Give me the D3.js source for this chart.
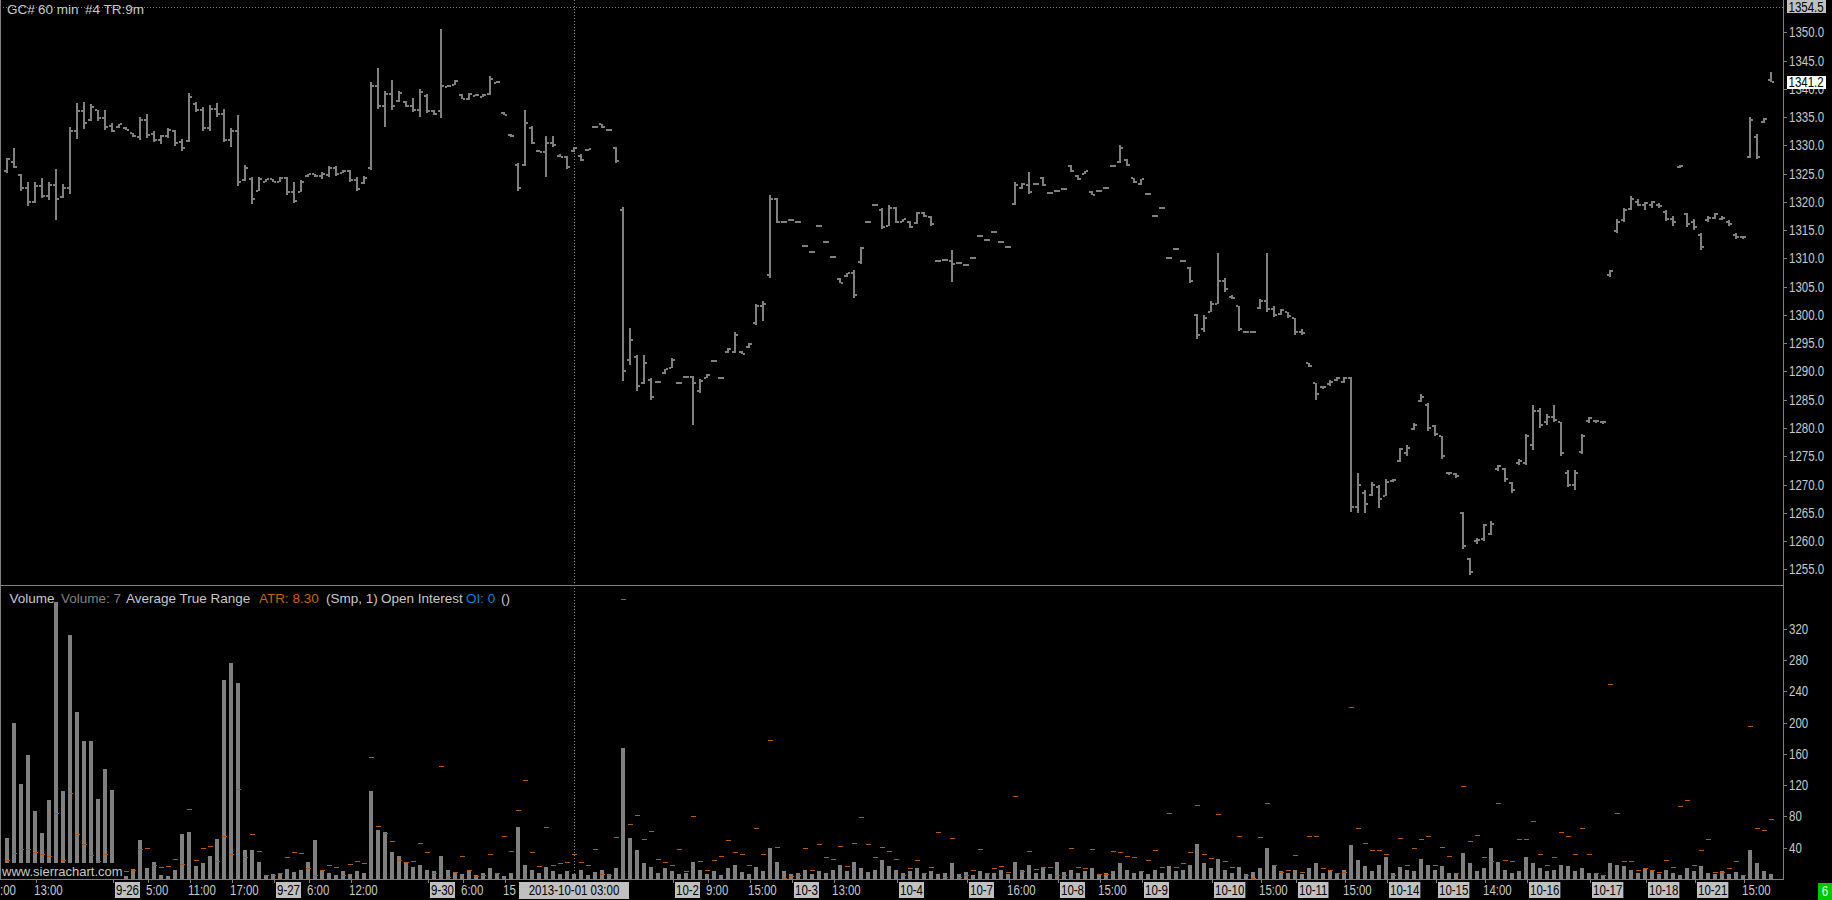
<!DOCTYPE html>
<html><head><meta charset="utf-8">
<script src="https://cdn.jsdelivr.net/npm/d3@7"></script>
<style>
html,body{margin:0;padding:0;background:#000;overflow:hidden}
svg{display:block}
text{font-family:"Liberation Sans",Arial,sans-serif}
</style></head><body>
<svg id="c" width="1832" height="900"></svg>
<script>
// ---------------- data ----------------
const opens=[1325.5,1327.0,1324.8,1322.5,1320.0,1322.8,1321.0,1322.9,1320.8,1322.5,1332.5,1336.0,1334.5,1336.3,1334.8,1333.5,1333.2,1333.1,1332.1,1331.5,
1334.5,1332.0,1331.0,1331.6,1332.6,1330.6,1330.8,1337.4,1336.2,1333.0,1336.5,1335.6,1331.0,1332.5,1323.8,1324.0,1322.0,1323.6,1324.0,1323.6,
1324.2,1321.8,1321.8,1324.5,1324.9,1324.5,1324.8,1326.0,1325.1,1325.5,1323.8,1323.3,1326.0,1340.5,1337.0,1339.0,1337.8,1337.6,1337.0,1336.2,
1338.8,1336.0,1336.0,1340.4,1340.7,1338.9,1338.2,1338.8,1338.5,1339.0,1341.0,1335.8,1331.9,1326.5,1326.5,1333.0,1329.0,1328.8,1330.5,1328.2,
1328.0,1329.0,1328.2,1329.1,1333.2,1333.7,1332.8,1329.5,1318.5,1292.0,1292.5,1288.0,1288.5,1288.1,1289.8,1290.6,1288.0,1289.0,1289.0,1286.5,
1288.9,1291.9,1288.8,1293.4,1293.5,1293.5,1294.3,1298.5,1301.5,1307.0,1320.5,1316.5,1316.8,1316.4,1312.2,1311.1,1315.8,1312.9,1310.2,1306.4,
1306.9,1307.5,1309.3,1316.5,1319.5,1318.5,1315.8,1319.0,1316.5,1316.5,1316.2,1318.0,1317.4,1309.6,1309.8,1309.5,1309.2,1308.8,1310.0,1314.0,
1313.2,1314.6,1312.9,1312.0,1319.6,1322.4,1323.0,1323.1,1324.2,1321.5,1321.9,1322.3,1326.4,1324.5,1325.0,1321.8,1321.9,1322.5,1326.3,1327.0,
1327.4,1324.2,1323.2,1321.4,1317.5,1319.0,1310.0,1311.6,1309.5,1308.3,1300.0,1297.5,1300.5,1302.0,1306.0,1303.2,1301.5,1297.0,1297.0,1301.2,
1302.5,1301.0,1300.2,1300.5,1299.5,1297.0,1291.5,1288.0,1287.2,1287.8,1288.5,1288.2,1288.8,1266.0,1268.5,1268.2,1269.5,1268.0,1270.6,1274.2,
1275.5,1279.8,1284.8,1284.0,1280.3,1278.5,1272.1,1271.8,1265.0,1256.8,1260.0,1260.3,1261.2,1272.8,1272.8,1270.2,1273.8,1273.8,1277.0,1283.0,
1281.0,1282.0,1281.0,1272.0,1270.0,1275.8,1281.2,1281.3,1281.0,1307.0,1314.8,1316.8,1318.8,1320.0,1319.5,1319.5,1319.5,1318.2,1317.0,1326.2,
1317.8,1316.5,1314.2,1316.8,1317.2,1317.0,1316.5,1314.2,1313.8,1328.0,1331.5,1334.2,1341.5];
const highs=[1327.8,1329.5,1325.0,1323.5,1323.5,1324.2,1323.5,1325.9,1323.1,1333.2,1337.5,1337.6,1337.3,1336.3,1336.3,1334.0,1333.8,1333.2,1332.2,1335.0,
1335.5,1332.5,1331.9,1333.0,1332.8,1331.2,1339.3,1337.6,1336.8,1337.1,1337.5,1336.5,1333.1,1335.3,1326.6,1324.4,1324.4,1324.1,1324.1,1324.4,
1324.4,1323.5,1323.8,1325.0,1325.0,1325.3,1326.4,1326.4,1325.6,1325.6,1324.4,1324.5,1341.2,1343.6,1339.6,1341.5,1339.6,1337.8,1338.4,1340.0,
1339.0,1336.2,1350.5,1340.6,1341.5,1339.0,1339.3,1339.0,1339.0,1342.3,1341.3,1335.9,1332.0,1326.9,1336.2,1333.4,1329.1,1331.7,1331.7,1328.4,
1328.1,1329.7,1328.4,1329.4,1333.4,1333.8,1332.8,1329.7,1319.1,1297.6,1293.0,1293.0,1288.8,1288.3,1290.5,1292.3,1288.1,1289.1,1289.2,1288.6,
1289.5,1292.0,1288.9,1294.2,1297.0,1293.6,1295.0,1302.0,1302.4,1321.2,1320.7,1316.6,1316.9,1316.5,1312.3,1311.2,1315.9,1313.0,1310.3,1306.5,
1307.5,1307.9,1312.1,1316.6,1319.6,1318.9,1319.4,1319.1,1317.0,1316.6,1318.2,1318.2,1317.5,1309.7,1309.9,1311.4,1309.3,1308.9,1310.1,1314.1,
1313.3,1314.7,1313.0,1312.1,1323.5,1323.3,1325.3,1323.2,1324.4,1321.6,1322.0,1322.4,1326.6,1324.7,1325.5,1321.9,1322.0,1322.6,1326.4,1330.0,
1327.6,1324.3,1324.1,1321.5,1317.6,1319.1,1310.1,1311.7,1309.6,1308.5,1300.2,1300.0,1302.4,1311.0,1306.5,1303.5,1301.5,1297.1,1297.1,1302.8,
1311.0,1301.5,1301.0,1300.5,1299.5,1297.5,1291.5,1288.0,1287.5,1288.5,1289.0,1289.0,1289.0,1272.0,1269.0,1270.5,1270.0,1271.0,1271.0,1276.5,
1277.0,1280.8,1286.0,1284.5,1280.5,1278.5,1272.3,1272.0,1265.2,1257.0,1260.6,1263.0,1263.5,1273.5,1273.0,1270.5,1274.5,1279.0,1284.0,1283.5,
1282.5,1284.0,1281.0,1272.5,1272.5,1279.0,1282.0,1281.5,1281.3,1308.0,1317.0,1319.0,1321.0,1320.5,1320.0,1320.2,1319.8,1318.5,1317.5,1326.6,
1318.0,1317.0,1314.5,1317.5,1318.0,1317.5,1316.8,1314.5,1314.0,1335.0,1332.0,1334.8,1343.0];
const lows=[1325.1,1325.9,1322.0,1319.3,1319.7,1320.7,1320.3,1316.8,1320.7,1321.3,1331.2,1332.8,1334.3,1334.3,1332.8,1332.4,1333.1,1332.6,1331.5,1330.9,
1331.2,1330.6,1330.3,1331.2,1330.0,1329.1,1330.6,1335.9,1332.5,1332.5,1335.0,1330.6,1329.7,1322.8,1323.8,1319.7,1321.9,1323.5,1323.5,1323.5,
1321.3,1319.7,1321.6,1324.4,1324.4,1324.1,1324.4,1324.7,1325.0,1323.5,1321.9,1323.1,1325.6,1336.3,1333.2,1336.2,1337.6,1336.8,1335.9,1335.0,
1335.7,1335.3,1334.8,1340.3,1340.6,1338.1,1338.1,1338.7,1338.4,1339.0,1340.9,1335.3,1331.5,1322.0,1326.3,1330.3,1328.7,1324.5,1329.7,1327.8,
1325.8,1328.9,1327.2,1329.0,1333.1,1333.1,1332.6,1326.9,1288.4,1291.1,1286.7,1287.8,1284.9,1288.0,1289.7,1290.5,1287.9,1288.9,1280.5,1286.1,
1288.8,1291.8,1288.7,1293.3,1293.3,1293.0,1294.2,1298.3,1298.9,1306.6,1316.2,1316.4,1316.7,1316.3,1312.1,1311.0,1315.7,1312.8,1310.1,1305.6,
1306.8,1302.9,1309.1,1316.4,1319.4,1315.1,1315.7,1316.3,1316.4,1315.4,1316.0,1317.4,1315.8,1309.5,1309.7,1305.7,1309.1,1308.7,1309.9,1313.9,
1313.1,1314.5,1312.8,1311.9,1319.4,1322.2,1321.4,1323.0,1322.8,1321.4,1321.8,1322.2,1325.3,1323.9,1324.9,1321.2,1321.8,1322.4,1326.2,1326.9,
1326.3,1323.5,1323.0,1321.3,1317.4,1318.9,1309.9,1311.5,1309.4,1305.7,1295.8,1297.0,1300.5,1302.0,1304.0,1302.8,1297.0,1296.9,1296.9,1301.0,
1300.5,1299.5,1300.0,1299.5,1296.5,1296.5,1290.8,1285.0,1287.0,1287.5,1288.3,1288.0,1265.2,1265.0,1265.0,1268.0,1266.0,1268.0,1270.5,1274.0,
1275.0,1279.5,1284.5,1279.5,1278.5,1274.5,1271.8,1271.2,1258.6,1254.0,1259.5,1260.0,1261.0,1272.5,1270.5,1268.5,1273.5,1273.5,1276.0,1280.0,
1280.5,1281.0,1275.0,1269.5,1269.0,1275.5,1281.0,1281.0,1280.8,1306.8,1314.5,1316.5,1318.5,1319.2,1318.5,1319.0,1319.0,1316.5,1315.8,1326.0,
1315.5,1315.0,1311.5,1316.5,1317.0,1316.8,1315.7,1313.5,1313.5,1327.8,1327.5,1334.0,1341.2];
const closes=[1327.5,1326.2,1322.5,1320.0,1322.8,1321.0,1322.9,1320.5,1322.5,1332.5,1336.0,1334.0,1336.8,1334.8,1333.2,1332.6,1333.7,1332.8,1331.6,1334.5,
1331.8,1330.9,1331.6,1332.7,1330.5,1329.6,1338.5,1336.2,1333.0,1336.5,1335.6,1331.0,1332.5,1323.5,1326.0,1320.5,1324.0,1324.0,1323.6,1324.2,
1321.8,1320.2,1323.5,1324.9,1324.5,1325.0,1326.0,1325.0,1325.5,1323.8,1322.3,1324.3,1340.5,1337.0,1339.0,1337.0,1339.2,1337.0,1336.2,1339.5,
1336.0,1335.5,1340.5,1340.5,1341.3,1338.2,1339.1,1338.9,1338.9,1341.8,1341.2,1335.4,1331.6,1322.5,1334.0,1330.5,1328.8,1330.5,1330.0,1328.0,
1326.2,1329.5,1327.4,1329.3,1333.3,1333.2,1332.7,1327.2,1290.0,1295.5,1287.5,1291.5,1285.5,1288.2,1290.4,1292.0,1288.0,1289.0,1288.0,1288.3,
1289.4,1291.9,1288.8,1294.0,1296.5,1293.1,1294.9,1301.5,1302.0,1320.5,1316.5,1316.5,1316.8,1316.4,1312.2,1311.1,1315.8,1312.9,1310.2,1305.7,
1307.4,1303.5,1311.8,1316.5,1319.5,1315.5,1319.0,1316.5,1316.9,1315.5,1318.0,1317.5,1316.0,1309.6,1309.8,1309.0,1309.2,1308.8,1310.0,1314.0,
1313.2,1314.6,1312.9,1312.0,1323.0,1323.1,1321.8,1323.1,1323.0,1321.5,1321.9,1322.3,1325.5,1324.0,1325.4,1321.3,1321.9,1322.5,1326.3,1329.5,
1326.5,1323.6,1324.0,1321.4,1317.5,1319.0,1310.0,1311.6,1309.5,1306.0,1296.5,1299.5,1302.0,1306.0,1304.5,1303.0,1297.5,1297.0,1297.0,1302.5,
1301.0,1300.0,1300.8,1299.8,1297.0,1296.8,1291.0,1286.0,1287.3,1288.2,1288.8,1288.8,1266.0,1270.0,1266.5,1270.0,1267.5,1270.5,1270.8,1276.2,
1276.5,1280.5,1285.5,1280.0,1279.0,1275.0,1272.0,1271.5,1259.2,1254.5,1260.2,1262.8,1263.0,1273.2,1271.0,1269.0,1274.2,1278.5,1283.0,1280.5,
1282.0,1281.5,1275.5,1270.0,1272.0,1278.5,1281.8,1281.2,1281.0,1307.8,1316.5,1318.5,1320.5,1319.5,1319.8,1320.0,1319.2,1317.0,1316.5,1326.4,
1316.0,1315.5,1312.0,1317.2,1317.8,1317.2,1316.0,1313.8,1313.8,1334.5,1328.0,1334.7,1341.2];
const volumes=[52,199,121,158,87,59,101,354,112,312,213,176,176,102,141,114,10,4,13,50,
14,22,5,4,11,57,60,17,20,29,51,254,276,250,37,37,22,5,6,8,
13,9,12,22,50,12,8,5,10,6,10,8,112,62,60,35,30,20,15,18,
12,10,30,12,8,6,10,5,8,14,6,4,8,66,18,12,8,15,10,6,
10,7,12,5,9,12,6,14,167,52,37,20,15,8,14,10,6,8,22,12,
6,10,5,14,18,9,7,15,10,40,22,10,6,8,12,6,10,8,12,18,
10,22,14,9,12,24,16,12,8,10,14,7,10,6,8,20,7,9,5,10,
6,8,12,7,22,12,18,8,14,6,22,9,12,8,10,14,6,8,10,20,
12,8,10,6,12,8,16,10,12,18,45,20,14,25,12,8,15,6,9,14,
40,16,10,8,12,7,14,20,8,10,6,12,43,24,16,10,18,28,8,15,
12,10,25,18,12,16,8,6,33,20,10,14,40,22,12,8,10,28,20,14,
10,12,18,16,10,14,8,6,5,20,18,16,12,8,14,10,6,12,8,5,
14,10,16,8,6,10,7,9,5,37,20,10,7];
const priceTicks=[1255,1260,1265,1270,1275,1280,1285,1290,1295,1300,1305,1310,1315,1320,1325,1330,1335,1340,1345,1350];
const volumeTicks=[40,80,120,160,200,240,280,320];
const xLabelIdx=[-1,4,15,20,26,32,38,43,49,60,65,71,95,100,106,112,118,127,137,143,150,156,162,172,179,184,191,197,204,211,217,226,234,241,248];
const xLabelText=[":00","13:00","9-26","5:00","11:00","17:00","9-27","6:00","12:00","9-30","6:00","15","10-2","9:00","15:00","10-3","13:00","10-4","10-7","16:00","10-8","15:00","10-9","10-10","15:00","10-11","15:00","10-14","10-15","14:00","10-16","10-17","10-18","10-21","15:00"];
const lastPrice=1341.2, highLine=1354.5, cursorIdx=81, cursorLabel="2013-10-01 03:00";

// ---------------- drawing ----------------
const svg=d3.select('#c');
svg.append('rect').attr('width',1832).attr('height',900).attr('fill','#000');
const n=closes.length;
const xS=d3.scaleLinear().domain([0,n-1]).range([7,7+7*(n-1)]);
const yP=d3.scaleLinear().domain([1255,1350]).range([569.3,32.3]);
const yV=d3.scaleLinear().domain([0,320]).range([879,628.6]);
const atr=highs.map((h,i)=>{const l=lows[i]; if(i===0) return h-l; const pc=closes[i-1]; return Math.max(h-l,Math.abs(h-pc),Math.abs(l-pc));});
const yA=d3.scaleLinear().domain([0,d3.max(atr)]).range([879,599]);
const GRAY='#808080', TXT='#c8c8c8';
const AX=1783, SX=0.82;

// narrow axis text: Liberation Sans squeezed horizontally
function axText(g,x,y,t,fill,anchor){
  const e=g.append('text').attr('transform',`translate(${x},${y}) scale(${SX},1)`)
    .attr('font-size',14).attr('fill',fill).text(t);
  if(anchor) e.attr('text-anchor',anchor);
  return e;
}

// frame lines
const fr=svg.append('g').attr('stroke',GRAY).attr('shape-rendering','crispEdges');
fr.append('line').attr('x1',0.5).attr('x2',0.5).attr('y1',0).attr('y2',879);
fr.append('line').attr('x1',0).attr('x2',AX).attr('y1',585.5).attr('y2',585.5);
fr.append('line').attr('x1',0).attr('x2',AX+1).attr('y1',879.5).attr('y2',879.5);
fr.append('line').attr('x1',AX+0.5).attr('x2',AX+0.5).attr('y1',0).attr('y2',880);
// dotted high line & cursor line
svg.append('line').attr('x1',0).attr('x2',AX).attr('y1',Math.round(yP(highLine))+0.5).attr('y2',Math.round(yP(highLine))+0.5)
  .attr('stroke',GRAY).attr('stroke-dasharray','1,2').attr('shape-rendering','crispEdges');
svg.append('line').attr('x1',Math.round(xS(cursorIdx))+0.5).attr('x2',Math.round(xS(cursorIdx))+0.5).attr('y1',0).attr('y2',879)
  .attr('stroke',GRAY).attr('stroke-dasharray','1,2').attr('shape-rendering','crispEdges');

// price OHLC bars
const pg=svg.append('g').attr('fill',GRAY).attr('shape-rendering','crispEdges');
const idx=d3.range(n);
pg.selectAll('rect.v').data(idx).join('rect').attr('class','v')
  .attr('x',i=>Math.round(xS(i))-1).attr('width',2)
  .attr('y',i=>{const a=yP(highs[i]),b=yP(lows[i]);return b-a<2?Math.round((a+b)/2-1):Math.round(a);})
  .attr('height',i=>Math.max(2,Math.round(yP(lows[i])-yP(highs[i]))));
pg.selectAll('rect.o').data(idx).join('rect').attr('class','o')
  .attr('x',i=>Math.round(xS(i))-3).attr('width',2)
  .attr('y',i=>Math.round(yP(opens[i]))-1).attr('height',2);
pg.selectAll('rect.c').data(idx).join('rect').attr('class','c')
  .attr('x',i=>Math.round(xS(i))+1).attr('width',2)
  .attr('y',i=>Math.round(yP(closes[i]))-1).attr('height',2);

// volume bars
const vg=svg.append('g').attr('fill',GRAY).attr('shape-rendering','crispEdges');
vg.selectAll('rect').data(idx).join('rect')
  .attr('x',i=>Math.round(xS(i))-2).attr('width',4)
  .attr('y',i=>Math.round(yV(volumes[i]))).attr('height',i=>879-Math.round(yV(volumes[i])));
// ATR dashes
const ag=svg.append('g').attr('fill','#b85808').attr('shape-rendering','crispEdges');
ag.selectAll('rect').data(idx).join('rect')
  .attr('x',i=>Math.round(xS(i))-2).attr('width',5)
  .attr('y',i=>Math.round(yA(atr[i]))).attr('height',1);

// watermark
svg.append('rect').attr('x',1).attr('y',863).attr('width',122).attr('height',16).attr('fill','#000');
svg.append('text').attr('x',2).attr('y',876).attr('fill',TXT).attr('font-size',13).text('www.sierrachart.com');

// header
const hd=svg.append('g').attr('fill',TXT).attr('font-size',13.5);
hd.append('text').attr('x',7).attr('y',13.5).text('GC#');
hd.append('text').attr('x',38).attr('y',13.5).text('60 min');
hd.append('text').attr('x',85).attr('y',13.5).text('#4 TR:9m');

// volume legend
const lg=svg.append('g').attr('font-size',13.5);
[[9.5,'Volume',TXT],[61,'Volume: 7',GRAY],[126,'Average True Range',TXT],[259,'ATR: 8.30','#c8640a'],[326,'(Smp, 1)',TXT],[381,'Open Interest',TXT],[466,'OI: 0','#0a82d2'],[501,'()',TXT]]
 .forEach(d=>lg.append('text').attr('x',d[0]).attr('y',602.5).attr('fill',d[2]).text(d[1]));

// price axis
const pa=svg.append('g');
priceTicks.forEach(p=>{
  const y=Math.round(yP(p));
  pa.append('line').attr('x1',AX).attr('x2',AX+4).attr('y1',y+0.5).attr('y2',y+0.5).attr('stroke',GRAY).attr('shape-rendering','crispEdges');
  axText(pa,1789,y+5,p.toFixed(1),TXT);
});
// volume axis
volumeTicks.forEach(v=>{
  const y=Math.round(yV(v));
  pa.append('line').attr('x1',AX).attr('x2',AX+4).attr('y1',y+0.5).attr('y2',y+0.5).attr('stroke',GRAY).attr('shape-rendering','crispEdges');
  axText(pa,1789,y+5,String(v),TXT);
});
// price boxes
function priceBox(p,fill){
  const y=yP(p);
  pa.append('rect').attr('x',1787).attr('y',Math.round(y-6.5)).attr('width',39).attr('height',13).attr('fill',fill);
  axText(pa,1788.5,Math.round(y)+5,p.toFixed(1),'#000');
}
priceBox(highLine,'#c0c0c0');
priceBox(lastPrice,'#ffffff');

// x axis labels
const xg=svg.append('g');
xLabelIdx.forEach((i,k)=>{
  const t=xLabelText[k]; const x=Math.max(1,Math.round(xS(i))); const boxed=t.indexOf('-')>=0;
  if(i>=0) xg.append('line').attr('x1',x+1.5).attr('x2',x+1.5).attr('y1',880).attr('y2',883).attr('stroke',GRAY);
  if(boxed){
    const r=xg.append('rect').attr('x',x+3).attr('y',882).attr('height',16).attr('fill','#c0c0c0');
    const tx=axText(xg,x+4,895,t,'#000');
    r.attr('width',tx.node().getComputedTextLength()*SX+2);
  } else {
    axText(xg,i<0?0:x-1,895,t,TXT);
  }
});
// cursor label
{
  const cx=Math.round(xS(cursorIdx));
  svg.append('rect').attr('x',cx-55).attr('y',882).attr('width',110).attr('height',17).attr('fill','#c0c0c0');
  axText(svg,cx,895,cursorLabel,'#000','middle');
}
// green status box
svg.append('rect').attr('x',1818).attr('y',883).attr('width',14).attr('height',17).attr('fill','#00c800');
axText(svg,1825,896,'6','#e8ffe8','middle');
</script>
</body></html>
